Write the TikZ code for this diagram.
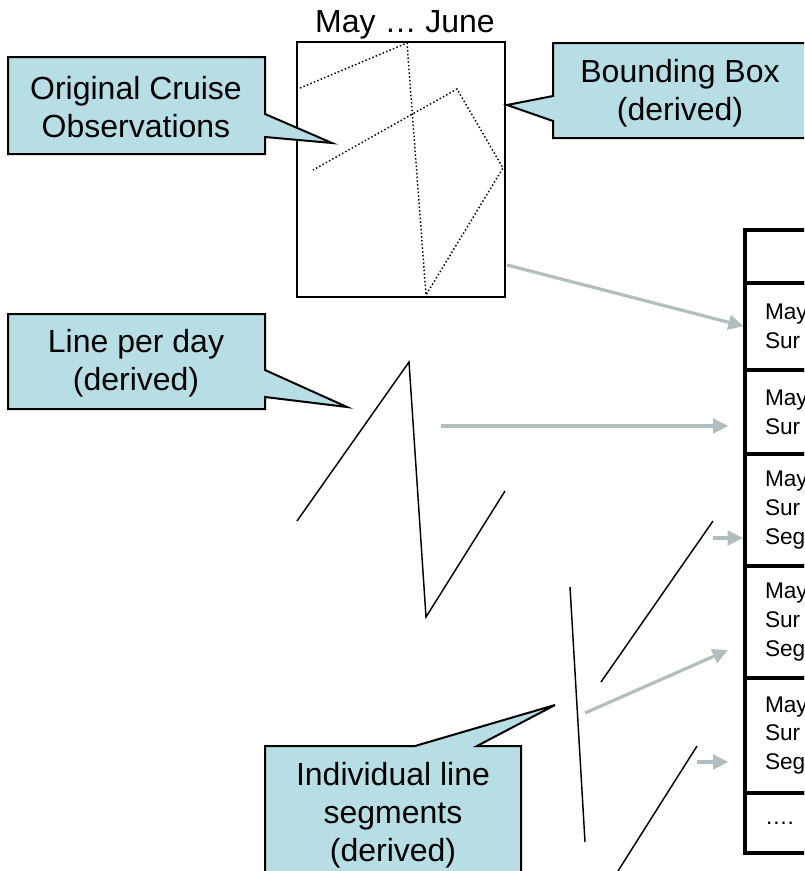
\documentclass[tikz,border=0pt]{standalone}
\usepackage{fontspec}
\setmainfont{Liberation Sans}
\usepackage{tikz}
\usetikzlibrary{arrows.meta,positioning}
\definecolor{noteblue}{RGB}{183,222,228}
\definecolor{feedgray}{RGB}{176,190,190}

\begin{document}
\begin{tikzpicture}[x=0.75pt,y=-0.75pt]
  \tikzset{
    note/.style={draw=black, fill=noteblue, line width=1.5pt, line join=miter},
    notetext/.style={font=\fontsize{24}{28.5}\selectfont, align=center, inner sep=0pt},
    track/.style={black, line width=1.1pt},
    cruise/.style={black, line width=1.1pt, dash pattern=on 1.1pt off 1.7pt},
    feed/.style={-{Triangle[length=11.5pt,width=11pt]}, feedgray, line width=2.4pt},
    cell/.style={draw=black, line width=2.4pt, outer sep=0pt, text width=60pt, inner xsep=15pt, inner ysep=0pt, align=left, font=\fontsize{17}{21.5}\selectfont}
  }

  % page frame, everything outside is cut off
  \useasboundingbox (0,0) rectangle (804,871);
  \clip (0,0) rectangle (804,871);

  % cruise track and its bounding box
  \node[font=\fontsize{24}{28.5}\selectfont, inner sep=0pt] (months) at (405,25) {May … June};
  \node[draw=black, line width=1.5pt, outer sep=0pt, minimum width=156pt, minimum height=191.25pt] (bbox) at (401,169.5) {};
  \draw[cruise] (300,88) -- (407,43) -- (426,295) -- (503,168) -- (457,89) -- (313,170);

  % callouts
  \draw[note] (8,57) -- (265,57) -- (265,114) -- (332,143) -- (265,137) -- (265,154) -- (8,154) -- cycle;
  \node[notetext] (obs) at (136,107) {Original Cruise\\Observations};

  \draw[note] (553,43) -- (810,43) -- (810,138) -- (553,138) -- (553,121) -- (507,105) -- (553,96) -- cycle;
  \node[notetext] (bbtxt) at (680,93) {Bounding Box\\(derived)};

  \draw[note] (8,314) -- (265,314) -- (265,370) -- (347,407) -- (265,397) -- (265,409) -- (8,409) -- cycle;
  \node[notetext] (daytxt) at (136,363) {Line per day\\(derived)};

  \draw[note] (265,746) -- (415,746) -- (555,705) -- (477,746) -- (521,746) -- (521,884) -- (265,884) -- cycle;
  \node[notetext] (segtxt) at (393,815) {Individual line\\segments\\(derived)};

  % line per day
  \draw[track] (297,521) -- (409,362) -- (426,617) -- (505,491);

  % individual segments
  \draw[track] (601,682) -- (713,521);
  \draw[track] (570,587) -- (585,842);
  \draw[track] (618,871) -- (697,746);

  % table
  \node[cell, anchor=north west, minimum height=39.75pt] (hdr) at (745,230) {};
  \node[cell, below=0pt of hdr, minimum height=65.25pt] (r1) {May\\Sur};
  \node[cell, below=0pt of r1, minimum height=63pt] (r2) {May\\Sur};
  \node[cell, below=0pt of r2, minimum height=84pt] (r3) {May\\Sur\\Seg};
  \node[cell, below=0pt of r3, minimum height=84pt] (r4) {May\\Sur\\Seg};
  \node[cell, below=0pt of r4, minimum height=86.25pt] (r5) {May\\Sur\\Seg};
  \node[cell, below=0pt of r5, minimum height=45pt] (r6) {….};

  % feeds into the table
  \coordinate (f1) at (507,265);
  \coordinate (f2) at (441,426);
  \coordinate (f3) at (713,538);
  \coordinate (f4) at (585,713);
  \coordinate (t4) at (728,650);
  \coordinate (f5) at (697,762);
  \draw[feed, shorten >=1pt] (f1) -- (r1.west);
  \draw[feed, shorten >=12.5pt] (f2) -- (f2 -| r2.west);
  \draw[feed, shorten >=1.5pt] (f3) -- (f3 -| r3.west);
  \draw[feed] (f4) -- (t4);
  \draw[feed, shorten >=12.5pt] (f5) -- (f5 -| r5.west);

\end{tikzpicture}
\end{document}
